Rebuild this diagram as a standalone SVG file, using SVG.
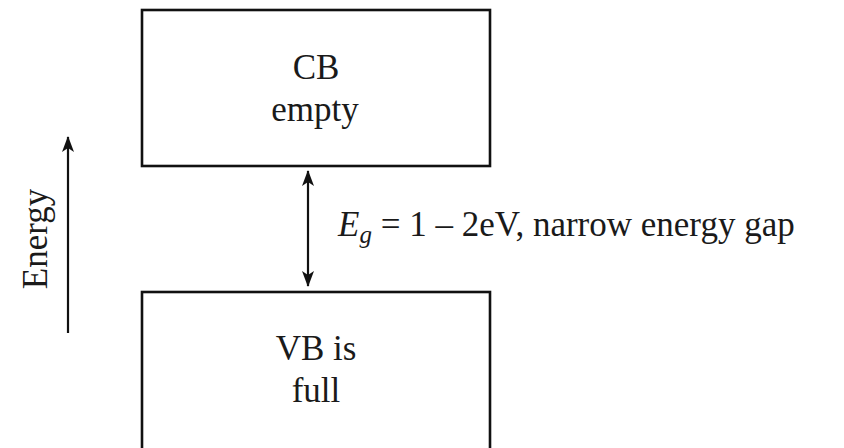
<svg xmlns="http://www.w3.org/2000/svg" width="844" height="448" viewBox="0 0 844 448">
  <style>
    .box { fill: #ffffff; stroke: #111111; stroke-width: 2.6; }
    .lbl { font-family: "Liberation Serif", "Times New Roman", serif; font-size: 35px; fill: #1a1a1a; }
    .mid { text-anchor: middle; }
    .line { stroke: #111111; stroke-width: 2.2; fill: none; }
  </style>
  <defs>
    <marker id="head" viewBox="0 0 16 12" refX="15" refY="6" markerWidth="16" markerHeight="12" markerUnits="userSpaceOnUse" orient="auto-start-reverse">
      <path d="M0,0 L16,6 L0,12 L4,6 Z" fill="#111111"/>
    </marker>
  </defs>

  <rect width="844" height="448" fill="#ffffff"/>

  <g id="conduction-band">
    <rect class="box" x="142" y="10" width="348" height="156"/>
    <text class="lbl mid" x="316" y="79">CB</text>
    <text class="lbl mid" x="315" y="121">empty</text>
  </g>

  <g id="valence-band">
    <rect class="box" x="142" y="292" width="348" height="170"/>
    <text class="lbl mid" x="316" y="360">VB is</text>
    <text class="lbl mid" x="316" y="402">full</text>
  </g>

  <g id="energy-axis">
    <text class="lbl mid" transform="translate(47,239) rotate(-90)">Energy</text>
  </g>

  <g id="gap-label">
    <text class="lbl" x="338" y="236"><tspan font-style="italic">E</tspan><tspan font-style="italic" font-size="25" dy="7">g</tspan><tspan dy="-7"> = 1 – 2eV, narrow energy gap</tspan></text>
  </g>

  <g id="connectors">
    <line class="line" x1="68" y1="333" x2="68" y2="137" marker-end="url(#head)"/>
    <line class="line" x1="308" y1="171" x2="308" y2="286" marker-start="url(#head)" marker-end="url(#head)"/>
  </g>
</svg>
